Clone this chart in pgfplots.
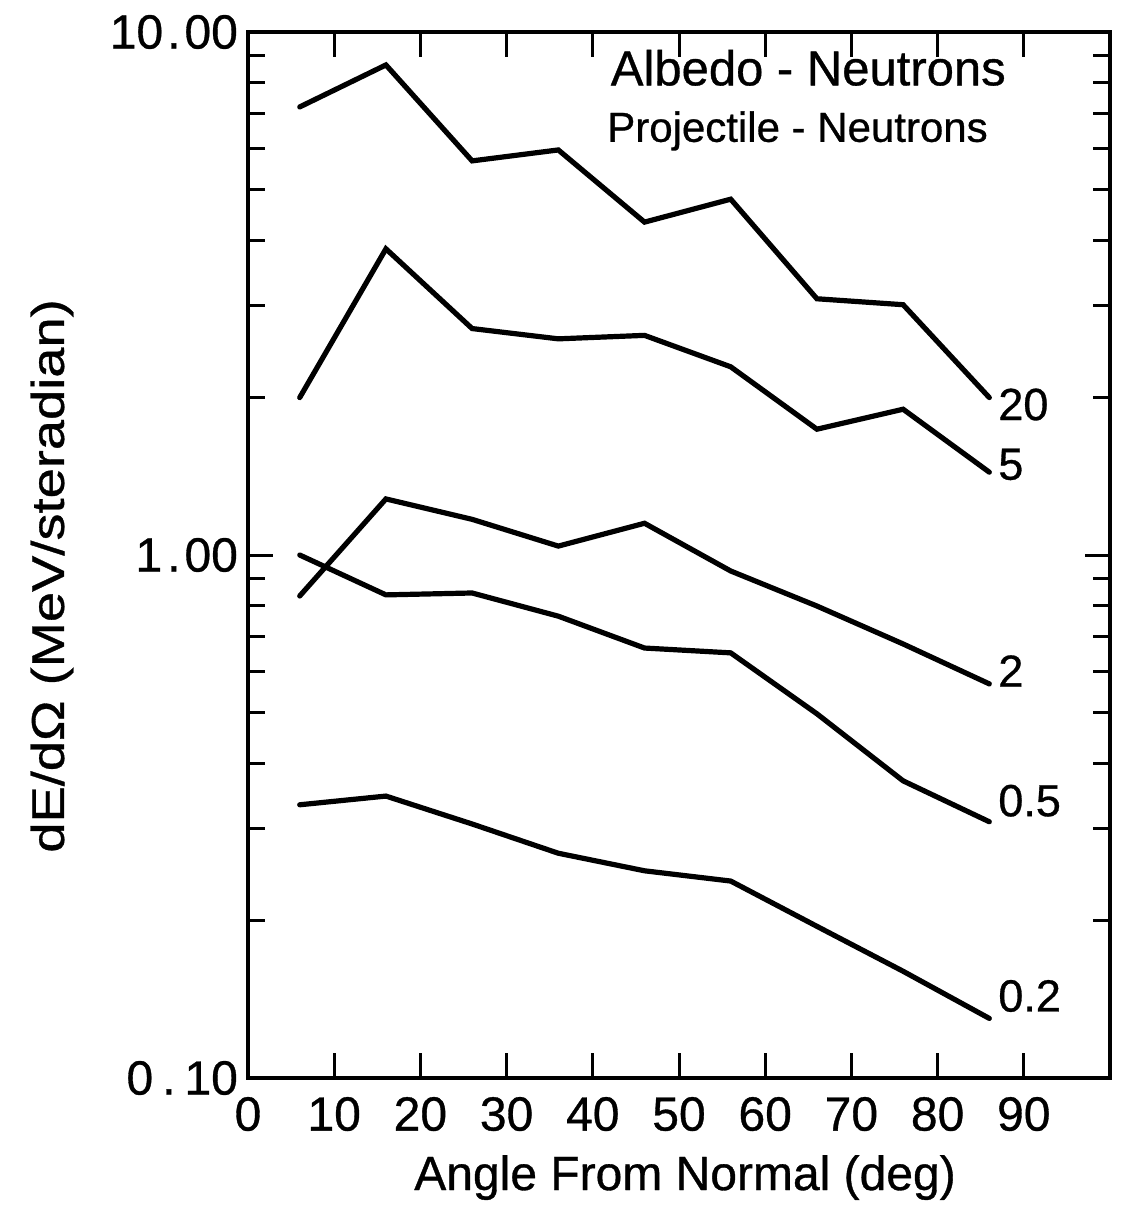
\documentclass[border=0pt]{standalone}
\usepackage{fontspec}
\setmainfont{Liberation Sans}[FakeBold=0.7]
\newfontfamily\ylabfont{Liberation Sans}[FakeStretch=1.18,FakeBold=0.7]
\usepackage{pgfplots}
\pgfplotsset{compat=1.18}
\pgfplotsset{curve/.style={black, line width=2.6pt, line cap=round, mark=none}}
\begin{document}
\begin{tikzpicture}
\path[use as bounding box] (-124pt,-68pt) rectangle (437pt,539pt);
\begin{semilogyaxis}[
  at={(0pt,0pt)}, anchor=south west,
  scale only axis, width=431pt, height=523pt,
  xmin=0, xmax=100, ymin=0.1, ymax=10,
  xtick={0,10,20,30,40,50,60,70,80,90},
  xticklabels={0,10,20,30,40,50,60,70,80,90},
  ytick={0.1,1,10},
  yticklabels={0\kern4.5pt.\kern4.5pt10,1\kern2.5pt.\kern2pt00,10\kern2pt.\kern2pt00},
  minor ytick={0.2,0.3,0.4,0.5,0.6,0.7,0.8,0.9,2,3,4,5,6,7,8,9},
  tick align=inside,
  major tick length=12.5pt, minor tick length=8.5pt,
  tick style={black, line width=1.5pt},
  minor tick style={black, line width=1.5pt},
  axis line style={line width=2pt},
  tick label style={font=\fontsize{24}{28}\selectfont},
  xticklabel style={yshift=-6pt},
  yticklabel style={xshift=-1.5pt},
  xlabel={Angle From Normal (deg)},
  xlabel style={font=\fontsize{24}{28}\selectfont, at={(axis description cs:0.507,0)}, anchor=base, yshift=-56pt},
  ylabel={\ylabfont dE/dΩ (MeV/steradian)},
  ylabel style={font=\fontsize{23}{27}\selectfont, at={(axis description cs:0,0.48)}, anchor=center, yshift=98pt},
]
% 20
\addplot[curve] coordinates {(6,7.19) (16,8.65) (26,5.67) (36,5.95) (46,4.33) (56,4.79) (66,3.09) (76,3.01) (86,2.00)};
% 5
\addplot[curve] coordinates {(6,2.00) (16,3.85) (26,2.71) (36,2.59) (46,2.63) (56,2.29) (66,1.74) (76,1.90) (86,1.44)};
% 2
\addplot[curve] coordinates {(6,0.835) (16,1.28) (26,1.17) (36,1.04) (46,1.15) (56,0.932) (66,0.799) (76,0.676) (86,0.567)};
% 0.5
\addplot[curve] coordinates {(6,1.00) (16,0.839) (26,0.846) (36,0.764) (46,0.664) (56,0.650) (66,0.497) (76,0.370) (86,0.309)};
% 0.2
\addplot[curve] coordinates {(6,0.333) (16,0.346) (26,0.306) (36,0.269) (46,0.249) (56,0.238) (66,0.195) (76,0.160) (86,0.130)};

\node[anchor=west, inner sep=0pt, font=\fontsize{22.5}{26}\selectfont] at (axis cs:87,1.94) {20};
\node[anchor=west, inner sep=0pt, font=\fontsize{22.5}{26}\selectfont] at (axis cs:87,1.49) {5};
\node[anchor=west, inner sep=0pt, font=\fontsize{22.5}{26}\selectfont] at (axis cs:87,0.600) {2};
\node[anchor=west, inner sep=0pt, font=\fontsize{22.5}{26}\selectfont] at (axis cs:87,0.339) {0.5};
\node[anchor=west, inner sep=0pt, font=\fontsize{22.5}{26}\selectfont] at (axis cs:87,0.1435) {0.2};

\node[anchor=base, font=\fontsize{24.5}{28}\selectfont] at (axis description cs:0.65,0.949) {Albedo - Neutrons};
\node[anchor=base, font=\fontsize{21}{25}\selectfont] at (axis description cs:0.6375,0.895) {Projectile - Neutrons};
\end{semilogyaxis}
\end{tikzpicture}
\end{document}
